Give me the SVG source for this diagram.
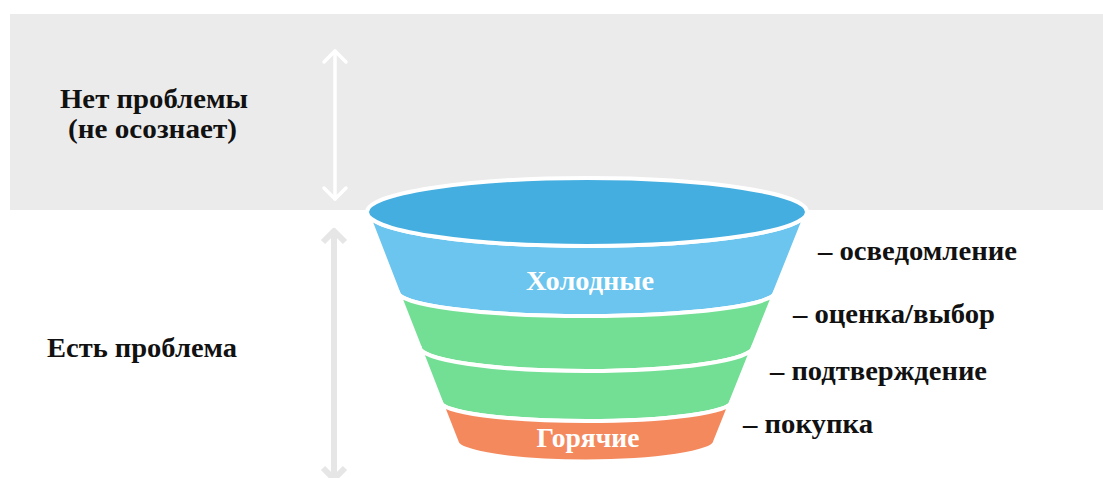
<svg xmlns="http://www.w3.org/2000/svg" width="1103" height="478" viewBox="0 0 1103 478">
  <style>
    .lbl { font-family: "Liberation Serif", "Times New Roman", serif; font-weight: bold; font-size: 27px; fill: #111; }
    .inner { font-family: "Liberation Serif", "Times New Roman", serif; font-weight: bold; font-size: 27px; fill: #fff; text-anchor: middle; }
    .band { stroke: #fff; stroke-width: 4; stroke-linejoin: round; }
    .arrW { fill: none; stroke: #fff; stroke-width: 3.5; stroke-linecap: round; stroke-linejoin: round; }
    .arrG { fill: none; stroke: #e6e6e6; stroke-width: 6; stroke-linejoin: round; }
  </style>

  <!-- upper zone background -->
  <rect x="10" y="14" width="1093" height="196" fill="#ebebeb"/>

  <!-- vertical range arrows -->
  <g id="connectors">
    <path class="arrW" d="M335 51 V199"/>
    <path class="arrW" d="M324 62 L335 51 L346 62"/>
    <path class="arrW" d="M324 188 L335 199 L346 188"/>
    <path class="arrG" d="M334 232 V476"/>
    <path class="arrG" d="M323 242 L334 231 L345 242"/>
    <path class="arrG" d="M323 480 L334 469 L345 480" transform="rotate(180 334 474)"/>
  </g>

  <!-- funnel -->
  <g id="funnel">
    <g id="band-cold">
      <path class="band" fill="#6bc5ee" d="M367 212 A220 34 0 0 0 807 212 L775 292 A188.5 24 0 0 1 398 292 Z"/>
    </g>
    <g id="band-eval">
      <path class="band" fill="#73df95" d="M398 292 A188.5 24 0 0 0 775 292 L753 347 A166.7 24 0 0 1 419.6 347 Z"/>
    </g>
    <g id="band-confirm">
      <path class="band" fill="#73df95" d="M419.6 347 A166.7 24 0 0 0 753 347 L731 402 A145 19 0 0 1 441 402 Z"/>
    </g>
    <g id="band-hot">
      <path class="band" fill="#f5895e" d="M441 402 A145 19 0 0 0 731 402 L715 442 A129.2 20 0 0 1 456.7 442 Z"/>
    </g>
    <g id="funnel-top">
      <ellipse cx="587" cy="212" rx="220" ry="34" fill="#45aee0" stroke="#fff" stroke-width="4"/>
    </g>
    <text class="inner" x="590" y="290" textLength="128" lengthAdjust="spacingAndGlyphs">Холодные</text>
    <text class="inner" x="588" y="447" textLength="103" lengthAdjust="spacingAndGlyphs">Горячие</text>
  </g>

  <!-- left zone labels -->
  <g id="label-no-problem">
    <text class="lbl" x="60" y="108" textLength="188" lengthAdjust="spacingAndGlyphs">Нет проблемы</text>
    <text class="lbl" x="68" y="138" textLength="169" lengthAdjust="spacingAndGlyphs">(не осознает)</text>
  </g>
  <g id="label-problem">
    <text class="lbl" x="47" y="357" textLength="190" lengthAdjust="spacingAndGlyphs">Есть проблема</text>
  </g>

  <!-- stage labels -->
  <g id="stage-awareness"><text class="lbl" x="818" y="260" textLength="199" lengthAdjust="spacingAndGlyphs">– осведомление</text></g>
  <g id="stage-evaluation"><text class="lbl" x="793" y="323" textLength="202" lengthAdjust="spacingAndGlyphs">– оценка/выбор</text></g>
  <g id="stage-confirmation"><text class="lbl" x="770" y="380" textLength="217" lengthAdjust="spacingAndGlyphs">– подтверждение</text></g>
  <g id="stage-purchase"><text class="lbl" x="743" y="433" textLength="130" lengthAdjust="spacingAndGlyphs">– покупка</text></g>
</svg>
